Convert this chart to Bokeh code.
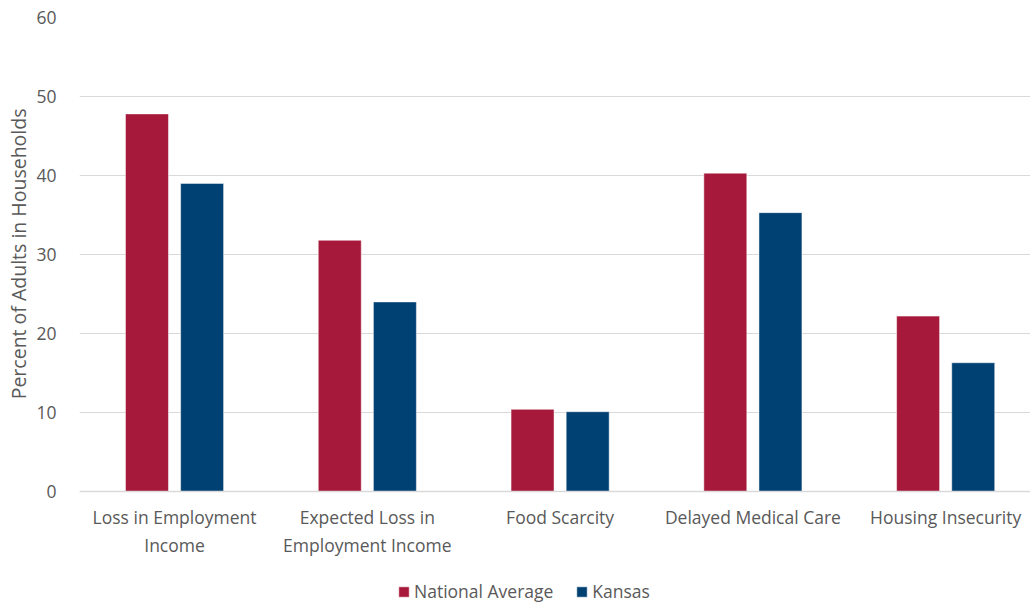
from bokeh.plotting import figure
from bokeh.models import ColumnDataSource, Legend, LegendItem, FixedTicker, Range1d, Title
from bokeh.transform import dodge
from bokeh.embed import file_html
from bokeh.resources import INLINE

categories = ["Loss in Employment\nIncome", "Expected Loss in\nEmployment Income",
              "Food Scarcity", "Delayed Medical Care", "Housing Insecurity"]
national = [47.8, 31.8, 10.4, 40.3, 22.2]
kansas = [39.0, 24.0, 10.1, 35.3, 16.3]
series_names = ["National Average", "Kansas"]
colors = ["#A6193A", "#004173"]
y_ticks = [0, 10, 20, 30, 40, 50, 60]

xi = list(range(len(categories)))
src = ColumnDataSource(dict(xi=xi, national=national, kansas=kansas))

FONT = "Open Sans"
GRAY = "#595959"

# frame reaches to the bottom of the window so the legend can sit inside it
p = figure(frame_width=951, frame_height=586, output_backend="svg", toolbar_location=None,
           x_range=Range1d(-0.493, 4.44), y_range=Range1d(-14.177, 60),
           min_border_left=74, min_border_top=17, min_border_right=0, min_border_bottom=0)
p.outline_line_color = None
p.background_fill_color = "white"
p.border_fill_color = "white"

r1 = p.vbar(x=dodge("xi", -0.143, range=p.x_range), top="national", width=0.223,
            source=src, fill_color=colors[0], line_color="white", line_width=0.5)
r2 = p.vbar(x=dodge("xi", 0.143, range=p.x_range), top="kansas", width=0.223,
            source=src, fill_color=colors[1], line_color="white", line_width=0.5)

# x axis drawn at y = 0
p.xaxis.fixed_location = 0
p.xaxis.ticker = FixedTicker(ticks=xi)
p.xaxis.major_label_overrides = {i: c for i, c in zip(xi, categories)}
p.xaxis.major_tick_line_color = None
p.xaxis.minor_tick_line_color = None
p.xaxis.axis_line_color = "#D9D9D9"
p.xaxis.axis_line_width = 1.5
p.xaxis.major_label_text_font = FONT
p.xaxis.major_label_text_font_size = "17.5px"
p.xaxis.major_label_text_color = GRAY
p.xaxis.major_label_standoff = 7
p.xgrid.grid_line_color = None

# y axis
p.yaxis.ticker = FixedTicker(ticks=y_ticks)
p.yaxis.axis_line_color = None
p.yaxis.major_tick_line_color = None
p.yaxis.minor_tick_line_color = None
p.yaxis.major_label_text_font = FONT
p.yaxis.major_label_text_font_size = "17.5px"
p.yaxis.major_label_text_color = GRAY
p.yaxis.major_label_standoff = 17
p.ygrid.grid_line_color = "#D9D9D9"
p.ygrid.grid_line_width = 1.2

ylabel = Title(text="Percent of Adults in Households", align="right", offset=91,
               text_font=FONT, text_font_size="19.5px", text_font_style="normal",
               text_color=GRAY, standoff=4)
p.add_layout(ylabel, "left")

legend = Legend(items=[LegendItem(label=series_names[0], renderers=[r1]),
                       LegendItem(label=series_names[1], renderers=[r2])],
                orientation="horizontal", location=(318, 0),
                label_text_font=FONT, label_text_font_size="17.5px",
                label_text_color=GRAY, glyph_width=13, glyph_height=13,
                label_standoff=4, spacing=22, border_line_color=None,
                background_fill_alpha=0, padding=0, margin=0)
p.add_layout(legend, "center")

open("out.html", "w").write(file_html(p, INLINE))
